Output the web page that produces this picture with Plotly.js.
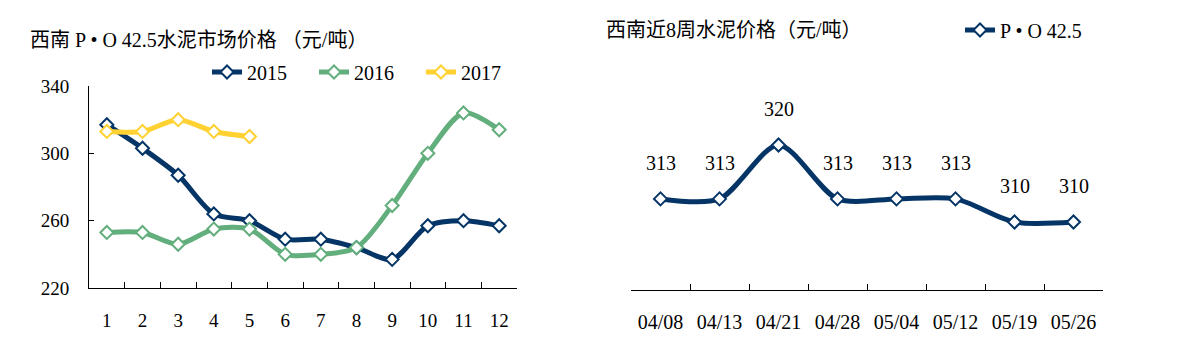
<!DOCTYPE html>
<html><head><meta charset="utf-8">
<script src="https://cdn.plot.ly/plotly-3.0.1.min.js"></script>
<style>html,body{margin:0;padding:0;background:#fff}#chart{width:1196px;height:356px}</style>
</head><body><div id="chart"></div>
<script>
// ---- data ----
const months = ['1','2','3','4','5','6','7','8','9','10','11','12'];
const price2015 = [317,303,287,264,260,249,249,244,237,257,260,257];
const price2016 = [253,253,246,255,255,240,240,244,269,300,324,314];
const price2017 = [313,313,320,313,310];
const weeks = ['04/08','04/13','04/21','04/28','05/04','05/12','05/19','05/26'];
const weekly = [313,313,320,313,313,313,310,310];
const leftTicks = [220,260,300,340];

// ---- styling ----
const W = 1196, H = 356;
const px = v => v / W, py = v => 1 - v / H;
const FONT = "Liberation Serif, Times New Roman, Noto Sans CJK SC, serif";
const NAVY = '#053566', GREEN = '#62AE7C', YELLOW = '#FFD232';

function series(x, y, name, color, xa, ya, legend) {
  return {
    x: x, y: y, name: name, type: 'scatter', mode: 'lines+markers',
    xaxis: xa, yaxis: ya, legend: legend,
    line: {color: color, width: 5, shape: 'spline', smoothing: 0.8},
    marker: {symbol: 'diamond', size: 10, color: '#ffffff', line: {color: color, width: 2}},
    hoverinfo: 'skip'
  };
}

const traces = [
  series(months, price2015, '2015', NAVY, 'x', 'y', 'legend'),
  series(months, price2016, '2016', GREEN, 'x', 'y', 'legend'),
  series(months.slice(0, price2017.length), price2017, '2017', YELLOW, 'x', 'y', 'legend'),
  series(weeks, weekly, 'P • O 42.5', NAVY, 'x2', 'y2', 'legend2')
];

const k = 7.7; // px per unit on hidden right axis
const rBottom = 320 - (290 - 145) / k;
const rTop = rBottom + (290 - 86) / k;

const labelAnns = weeks.map((w, i) => ({
  x: w, y: weekly[i], xref: 'x2', yref: 'y2', text: String(weekly[i]),
  showarrow: false, yshift: 36, font: {family: FONT, size: 20, color: '#000'}
}));

const layout = {
  width: W, height: H,
  margin: {l: 0, r: 0, t: 0, b: 0},
  paper_bgcolor: '#fff', plot_bgcolor: '#fff',
  font: {family: FONT, size: 19, color: '#000'},
  showlegend: true,
  xaxis: {
    domain: [px(89), px(517)], anchor: 'y', type: 'category', range: [-0.5, 11.5],
    showline: true, linecolor: '#000', linewidth: 1, ticks: 'inside', ticklen: 6,
    tickcolor: '#000', tickson: 'boundaries', showgrid: false, zeroline: false,
    tickfont: {family: FONT, size: 19}, ticklabelstandoff: 15, fixedrange: true
  },
  yaxis: {
    domain: [py(288), py(86)], anchor: 'x', range: [220, 340], tickvals: leftTicks,
    showline: true, linecolor: '#000', linewidth: 1, ticks: 'inside', ticklen: 5,
    tickcolor: '#000', showgrid: false, zeroline: false,
    tickfont: {family: FONT, size: 19}, ticklabelstandoff: 15, fixedrange: true
  },
  xaxis2: {
    domain: [px(631), px(1103)], anchor: 'y2', type: 'category', range: [-0.5, 7.5],
    showline: true, linecolor: '#000', linewidth: 1, ticks: 'inside', ticklen: 6,
    tickcolor: '#000', tickson: 'boundaries', showgrid: false, zeroline: false,
    tickfont: {family: FONT, size: 20}, ticklabelstandoff: 14, fixedrange: true
  },
  yaxis2: {
    domain: [py(290), py(86)], anchor: 'x2', range: [rBottom, rTop], visible: false, fixedrange: true
  },
  legend: {
    orientation: 'h', x: px(207), y: py(72), xanchor: 'left', yanchor: 'middle',
    font: {family: FONT, size: 20}, entrywidth: 62, entrywidthmode: 'pixels',
    bgcolor: 'rgba(0,0,0,0)', itemclick: false, itemdoubleclick: false
  },
  legend2: {
    orientation: 'h', x: px(960), y: py(30), xanchor: 'left', yanchor: 'middle',
    font: {family: FONT, size: 20}, bgcolor: 'rgba(0,0,0,0)', itemclick: false, itemdoubleclick: false
  },
  annotations: [
    {xref: 'paper', yref: 'paper', x: px(28), y: py(40), xanchor: 'left', yanchor: 'middle',
     text: '西南 P • O 42.5水泥市场价格 （元/吨）', showarrow: false, font: {family: FONT, size: 20}},
    {xref: 'paper', yref: 'paper', x: px(604), y: py(30), xanchor: 'left', yanchor: 'middle',
     text: '西南近8周水泥价格（元/吨）', showarrow: false, font: {family: FONT, size: 20}}
  ].concat(labelAnns)
};

Plotly.newPlot('chart', traces, layout, {staticPlot: true, displayModeBar: false});
</script>
</body></html>
